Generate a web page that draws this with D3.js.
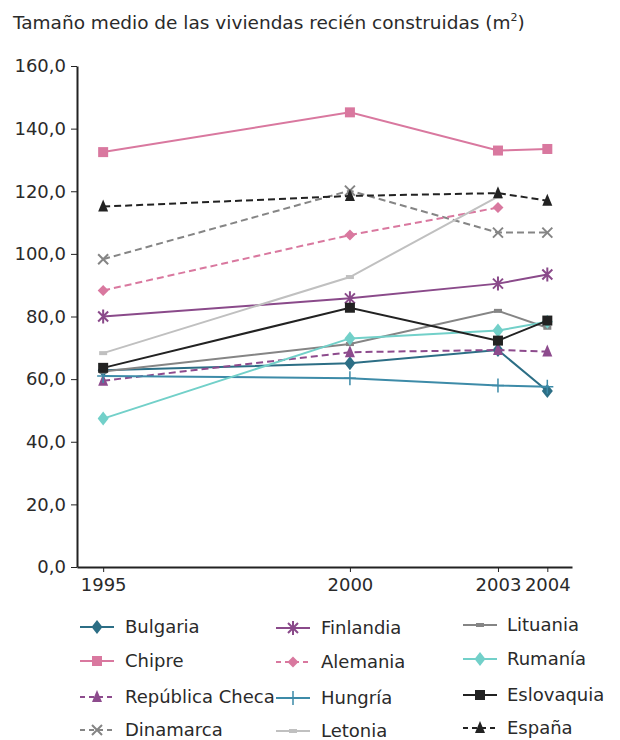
<!DOCTYPE html>
<html>
<head>
<meta charset="utf-8">
<script src="https://cdn.jsdelivr.net/npm/d3@7"></script>
<style>
  html, body { margin: 0; padding: 0; background: #fff; }
  svg { display: block; font-family: "DejaVu Sans", Verdana, sans-serif; }
</style>
</head>
<body>
<svg id="chart" width="620" height="740"></svg>
<script>
// Years on the x axis
const years = [1995, 2000, 2003, 2004];
const yTicks = [0, 20, 40, 60, 80, 100, 120, 140, 160];

// Average floor area of newly built dwellings (m²), one array per country
const bulgaria   = [62.8, 65.1, 69.3, 56.2];
const chipre     = [132.5, 145.2, 133.0, 133.5];
const checa      = [59.5, 68.6, 69.3, 68.8];
const dinamarca  = [98.3, 120.2, 106.8, 106.8];
const finlandia  = [80.0, 85.8, 90.5, 93.4];
const alemania   = [88.3, 106.0, 114.8, null];
const hungria    = [61.0, 60.3, 58.0, 57.6];
const letonia    = [68.3, 92.6, 118.3, null];
const lituania   = [62.4, 71.2, 81.8, 76.4];
const rumania    = [47.4, 73.0, 75.5, 78.3];
const eslovaquia = [63.6, 82.8, 72.3, 78.7];
const espana     = [115.1, 118.5, 119.4, 117.0];

const series = [
  { name: "Bulgaria",         values: bulgaria,   color: "#2c6e85", dash: null,  marker: "diamond" },
  { name: "Chipre",           values: chipre,     color: "#d9789f", dash: null,  marker: "square" },
  { name: "República Checa",  values: checa,      color: "#8d4b8d", dash: "7,4", marker: "triangle" },
  { name: "Dinamarca",        values: dinamarca,  color: "#858585", dash: "7,4", marker: "x" },
  { name: "Finlandia",        values: finlandia,  color: "#8a4a8a", dash: null,  marker: "asterisk" },
  { name: "Alemania",         values: alemania,   color: "#d9789f", dash: "7,4", marker: "smalldiamond" },
  { name: "Hungría",          values: hungria,    color: "#3d8ba8", dash: null,  marker: "plus" },
  { name: "Letonia",          values: letonia,    color: "#c0c0c0", dash: null,  marker: "bar" },
  { name: "Lituania",         values: lituania,   color: "#858585", dash: null,  marker: "bar" },
  { name: "Rumanía",          values: rumania,    color: "#72d0c9", dash: null,  marker: "diamond" },
  { name: "Eslovaquia",       values: eslovaquia, color: "#222222", dash: null,  marker: "square" },
  { name: "España",           values: espana,     color: "#222222", dash: "7,4", marker: "triangle" }
];

const svg = d3.select("#chart");
const textColor = "#2a2a2a";
const fontSize = 18;

const x = d3.scaleLinear().domain([1994.47, 2004.5]).range([77, 572]);
const y = d3.scaleLinear().domain([0, 160]).range([567, 66]);

// Title
const title = svg.append("text")
  .attr("x", 13).attr("y", 29)
  .attr("font-size", 18.5).attr("fill", textColor)
  .text("Tamaño medio de las viviendas recién construidas (m");
title.append("tspan").attr("font-size", 11).attr("dy", -8).text("2");
title.append("tspan").attr("dy", 8).text(")");

// Axes
const fmt = d => d3.format(".1f")(d).replace(".", ",");
const yAxis = svg.append("g")
  .attr("transform", "translate(77,0)")
  .call(d3.axisLeft(y).tickValues(yTicks).tickFormat(fmt).tickSize(6).tickSizeOuter(0).tickPadding(5));
const xAxis = svg.append("g")
  .attr("transform", "translate(0,567)")
  .call(d3.axisBottom(x).tickValues(years).tickFormat(d3.format("d")).tickSize(5).tickSizeOuter(0).tickPadding(6));

[yAxis, xAxis].forEach(g => {
  g.select(".domain").attr("stroke", "#222").attr("stroke-width", 2);
  g.selectAll(".tick line").attr("stroke", "#222").attr("stroke-width", 1);
  g.selectAll(".tick text").attr("font-size", fontSize).attr("fill", textColor)
    .attr("font-family", "DejaVu Sans, Verdana, sans-serif");
});

// Marker drawing
function drawMarker(g, type, color) {
  switch (type) {
    case "square":
      g.append("rect").attr("x", -5).attr("y", -5).attr("width", 10).attr("height", 10).attr("fill", color);
      break;
    case "diamond":
      g.append("path").attr("d", "M0,-7L5.5,0L0,7L-5.5,0Z").attr("fill", color);
      break;
    case "smalldiamond":
      g.append("path").attr("d", "M0,-5.5L5.5,0L0,5.5L-5.5,0Z").attr("fill", color);
      break;
    case "triangle":
      g.append("path").attr("d", "M0,-7L5,5L-5,5Z").attr("fill", color);
      break;
    case "x":
      g.append("path").attr("d", "M-5,-5L5,5M-5,5L5,-5").attr("stroke", color).attr("stroke-width", 2).attr("fill", "none");
      break;
    case "asterisk":
      g.append("path").attr("d", "M-5,-5L5,5M-5,5L5,-5M0,-7L0,7").attr("stroke", color).attr("stroke-width", 2).attr("fill", "none");
      break;
    case "plus":
      g.append("path").attr("d", "M-6,0L6,0M0,-7L0,7").attr("stroke", color).attr("stroke-width", 1.5).attr("fill", "none");
      break;
    case "bar":
      g.append("rect").attr("x", -4).attr("y", -2).attr("width", 8).attr("height", 4).attr("fill", color);
      break;
  }
}

const line = d3.line()
  .defined(d => d.v != null)
  .x(d => x(d.year))
  .y(d => y(d.v));

// Lines and markers
series.forEach(s => {
  const pts = years.map((yr, i) => ({ year: yr, v: s.values[i] }));
  const g = svg.append("g");
  g.append("path")
    .datum(pts)
    .attr("d", line)
    .attr("fill", "none")
    .attr("stroke", s.color)
    .attr("stroke-width", 2)
    .attr("stroke-dasharray", s.dash);
  pts.filter(d => d.v != null).forEach(d => {
    const m = g.append("g").attr("transform", `translate(${x(d.year)},${y(d.v)})`);
    drawMarker(m, s.marker, s.color);
  });
});

// Legend (three columns, four rows)
const colLine = [80, 276, 463];
const colText = [125, 321, 507];
const rowY = [627, 661, 697, 730];
const colShift = [0, 1, -2];
series.forEach((s, i) => {
  const col = Math.floor(i / 4), row = i % 4;
  const cy = rowY[row] + colShift[col];
  const g = svg.append("g");
  g.append("line")
    .attr("x1", colLine[col]).attr("x2", colLine[col] + 34)
    .attr("y1", cy).attr("y2", cy)
    .attr("stroke", s.color).attr("stroke-width", 2)
    .attr("stroke-dasharray", s.dash ? "5,4" : null);
  const m = g.append("g").attr("transform", `translate(${colLine[col] + 17},${cy})`);
  drawMarker(m, s.marker, s.color);
  g.append("text")
    .attr("x", colText[col]).attr("y", cy)
    .attr("dy", "0.35em")
    .attr("font-size", fontSize).attr("fill", textColor)
    .text(s.name);
});
</script>
</body>
</html>
